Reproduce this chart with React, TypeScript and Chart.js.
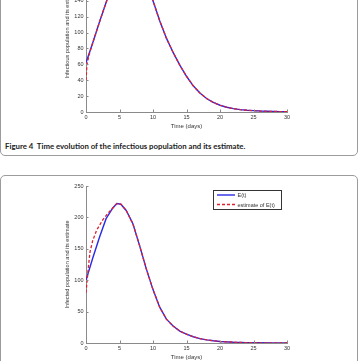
import React, { useEffect, useRef } from "react";
import { Chart, registerables } from "chart.js";

Chart.register(...registerables);

// Figure 4 (top panel): infectious population I(t) and its estimate
const infDays = [0, 1, 2, 3, 4, 5, 6, 7, 8, 9, 10, 11, 12, 13, 14, 15, 16, 17, 18, 19, 20, 21, 22, 23, 24, 25, 26, 27, 28, 29, 30];
const infectious = [62, 87, 113, 138, 160, 178, 190, 194, 186, 166, 140, 115, 93, 75, 59, 45, 33, 24, 17, 12, 8.5, 6, 4.2, 3, 2.2, 1.7, 1.2, 0.9, 0.7, 0.5, 0.4];
const infEstDays = [0, 0.15, 0.5, 1, 2, 3, 4, 5, 6, 7, 8, 9, 10, 11, 12, 13, 14, 15, 16, 17, 18, 19, 20, 21, 22, 23, 24, 25, 26, 27, 28, 29, 30];
const infectiousEstimate = [40, 60, 73, 87, 113, 138, 160, 178, 190, 194, 186, 166, 140, 115, 93, 75, 59, 45, 33, 24, 17, 12, 8.5, 6, 4.2, 3, 2.2, 1.7, 1.2, 0.9, 0.7, 0.5, 0.4];

// Lower panel: infected population E(t) and its estimate
const expDays = [0, 1, 2, 3, 4, 4.6, 5.2, 6, 7, 8, 9, 10, 11, 12, 13, 14, 15, 16, 17, 18, 19, 20, 22, 24, 26, 28, 30];
const exposed = [100, 135, 168, 198, 215, 222, 221, 211, 190, 155, 118, 85, 57, 38, 27, 19, 14, 10, 7, 5, 3.5, 2.4, 1.2, 0.6, 0.3, 0.2, 0.1];
const expEstDays = [0, 0.3, 0.6, 1, 1.6, 2.5, 3.3, 4, 4.6, 5.2, 6, 7, 8, 9, 10, 11, 12, 13, 14, 15, 16, 17, 18, 19, 20, 22, 24, 26, 28, 30];
const exposedEstimate = [80, 115, 145, 163, 180, 196, 207, 215, 222, 221, 211, 190, 155, 118, 85, 57, 38, 27, 19, 14, 10, 7, 5, 3.5, 2.4, 1.2, 0.6, 0.3, 0.2, 0.1];

const xTicksStep = 5;
const caption = "Figure 4  Time evolution of the infectious population and its estimate.";

const AXIS_FONT = "'Liberation Sans', Arial, Helvetica, sans-serif";
const AXIS_COLOR = "#8a8a8a";
const LABEL_COLOR = "#333";
const BLUE = "#2a2ae6";
const RED = "#e0202e";

const pts = (xs: number[], ys: number[]) => xs.map((x, i) => ({ x, y: ys[i] }));

// MATLAB-style tick marks pointing into the plot area
const inwardTicks = {
  id: "inwardTicks",
  afterDatasetsDraw(chart: any) {
    const { ctx, chartArea, scales } = chart;
    const xs = scales.x;
    const ys = scales.y;
    ctx.save();
    ctx.strokeStyle = AXIS_COLOR;
    ctx.lineWidth = 1;
    xs.ticks.forEach((_t: any, i: number) => {
      const px = Math.round(xs.getPixelForTick(i)) + 0.5;
      ctx.beginPath();
      ctx.moveTo(px, chartArea.bottom);
      ctx.lineTo(px, chartArea.bottom - 2.5);
      ctx.stroke();
    });
    ys.ticks.forEach((_t: any, i: number) => {
      const py = Math.round(ys.getPixelForTick(i)) + 0.5;
      ctx.beginPath();
      ctx.moveTo(chartArea.left, py);
      ctx.lineTo(chartArea.left + 2.5, py);
      ctx.stroke();
    });
    ctx.restore();
  },
};

// Boxed legend drawn in the upper right of the plot area
const boxLegend = {
  id: "boxLegend",
  afterDraw(chart: any, _args: any, opts: any) {
    if (!opts || !opts.show) return;
    const { ctx, chartArea } = chart;
    const w = 68;
    const h = 19;
    const x0 = Math.round(chartArea.right - 6 - w);
    const y0 = Math.round(chartArea.top + 4);
    ctx.save();
    ctx.fillStyle = "#fff";
    ctx.fillRect(x0, y0, w, h);
    ctx.strokeStyle = "#333";
    ctx.lineWidth = 1;
    ctx.strokeRect(x0 + 0.5, y0 + 0.5, w, h);
    chart.data.datasets.forEach((ds: any, i: number) => {
      const ly = y0 + 5 + i * 9.5;
      ctx.beginPath();
      ctx.setLineDash(ds.borderDash || []);
      ctx.strokeStyle = ds.borderColor;
      ctx.lineWidth = ds.borderWidth;
      ctx.moveTo(x0 + 4, ly);
      ctx.lineTo(x0 + 22, ly);
      ctx.stroke();
      ctx.setLineDash([]);
      ctx.fillStyle = LABEL_COLOR;
      ctx.font = `5.5px ${AXIS_FONT}`;
      ctx.textAlign = "left";
      ctx.textBaseline = "middle";
      ctx.fillText(ds.label, x0 + 24.5, ly + 0.5);
    });
    ctx.restore();
  },
};

type PanelProps = {
  top: number;
  height: number;
  plotTop: number;
  yMax: number;
  yStep: number;
  yTitle: string;
  series: { label: string; data: { x: number; y: number }[]; color: string; dash: number[]; width: number }[];
  legend: boolean;
};

function Panel({ top, height, plotTop, yMax, yStep, yTitle, series, legend }: PanelProps) {
  const ref = useRef<HTMLCanvasElement>(null);
  useEffect(() => {
    if (!ref.current) return;
    const chart = new Chart(ref.current, {
      type: "line",
      data: {
        // later series are drawn over earlier ones (estimate on top)
        datasets: series.map((s, i) => ({
          label: s.label,
          data: s.data,
          borderColor: s.color,
          borderWidth: s.width,
          borderDash: s.dash,
          pointRadius: 0,
          tension: 0,
          fill: false,
          order: series.length - i,
        })),
      },
      options: {
        animation: false,
        responsive: false,
        maintainAspectRatio: false,
        devicePixelRatio: 1,
        layout: { autoPadding: false, padding: { left: 0, right: 74, top: plotTop, bottom: 0 } },
        plugins: {
          legend: { display: false },
          tooltip: { enabled: false },
          boxLegend: { show: legend },
        } as any,
        scales: {
          x: {
            type: "linear",
            min: 0,
            max: 30,
            grid: { display: false, drawTicks: false },
            border: { display: true, color: AXIS_COLOR, width: 1 },
            ticks: { stepSize: xTicksStep, padding: 2, color: LABEL_COLOR, font: { family: AXIS_FONT, size: 5.5 } },
            title: { display: true, text: "Time (days)", color: LABEL_COLOR, font: { family: AXIS_FONT, size: 6 }, padding: { top: 0, bottom: 0.5 } },
            afterFit: (s: any) => {
              s.height = 18;
            },
          },
          y: {
            type: "linear",
            min: 0,
            max: yMax,
            grid: { display: false, drawTicks: false },
            border: { display: true, color: AXIS_COLOR, width: 1 },
            ticks: { stepSize: yStep, padding: 2.5, color: LABEL_COLOR, font: { family: AXIS_FONT, size: 5.5 } },
            title: { display: true, text: yTitle, color: LABEL_COLOR, font: { family: AXIS_FONT, size: 5.6 }, padding: { top: 64.5, bottom: 0 } },
            afterFit: (s: any) => {
              s.width = 86;
            },
          },
        },
      },
      plugins: [inwardTicks, boxLegend],
    });
    return () => chart.destroy();
  }, []);
  return (
    <canvas
      ref={ref}
      width={361}
      height={height}
      style={{ position: "absolute", left: 0, top, width: 361, height }}
    />
  );
}

export default function App() {
  return (
    <div
      style={{
        position: "fixed",
        left: 0,
        top: 0,
        width: 361,
        height: 361,
        overflow: "hidden",
        background: "#fff",
      }}
    >
      <div
        style={{
          position: "absolute",
          left: 0,
          top: -20,
          width: 358,
          height: 176,
          boxSizing: "border-box",
          border: "1px solid #9c9c9c",
          borderRadius: 5,
        }}
      />
      <div
        style={{
          position: "absolute",
          left: 0,
          top: 175,
          width: 358,
          height: 220,
          boxSizing: "border-box",
          border: "1px solid #9c9c9c",
          borderRadius: 5,
        }}
      />
      <Panel
        top={-60}
        height={190}
        plotTop={13.2}
        yMax={200}
        yStep={20}
        yTitle="Infectious population and its estimate"
        legend={false}
        series={[
          { label: "I(t)", data: pts(infDays, infectious), color: BLUE, dash: [], width: 1.4 },
          { label: "estimate of I(t)", data: pts(infEstDays, infectiousEstimate), color: RED, dash: [3, 2], width: 1.3 },
        ]}
      />
      <div
        style={{
          position: "absolute",
          left: 5,
          top: 141,
          fontFamily: "Lato, 'Open Sans', sans-serif",
          fontWeight: 700,
          fontSize: 7.8,
          lineHeight: "10px",
          color: "#222",
          whiteSpace: "pre",
        }}
      >
        {caption}
      </div>
      <Panel
        top={176}
        height={185}
        plotTop={10}
        yMax={250}
        yStep={50}
        yTitle="Infected population and its estimate"
        legend={true}
        series={[
          { label: "E(t)", data: pts(expDays, exposed), color: BLUE, dash: [], width: 1.4 },
          { label: "estimate of E(t)", data: pts(expEstDays, exposedEstimate), color: RED, dash: [3, 2], width: 1.3 },
        ]}
      />
    </div>
  );
}
